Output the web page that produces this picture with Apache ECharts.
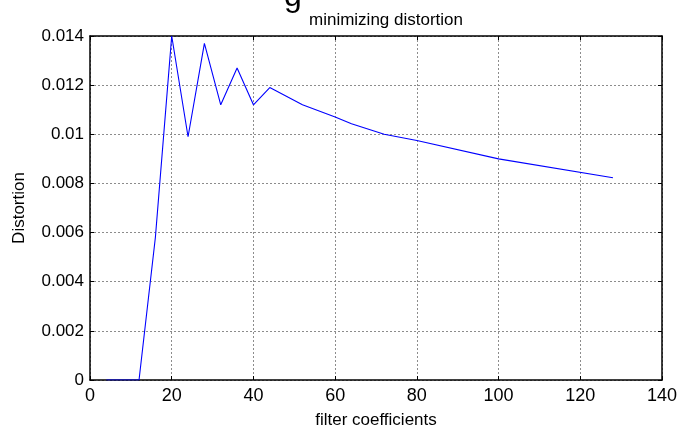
<!DOCTYPE html>
<html>
<head>
<meta charset="utf-8">
<script src="https://cdn.jsdelivr.net/npm/echarts@6/dist/echarts.min.js"></script>
<style>
  html, body { margin: 0; padding: 0; background: #fff; }
  #chart { width: 680px; height: 434px; }
</style>
</head>
<body>
<div id="chart"></div>
<script>
// filter length vs distortion
const coeffs = [4, 8, 12, 16, 20, 24, 28, 32, 36, 40, 44, 52, 60, 64, 72, 80, 100, 128]
const distortion = [0, 0, 0, 0.0058, 0.014, 0.0099, 0.0137, 0.0112, 0.0127, 0.0112, 0.0119, 0.0112, 0.0107, 0.01043, 0.0100, 0.00975, 0.0090, 0.00823]
const xTicks = [0, 20, 40, 60, 80, 100, 120, 140]
const yTicks = [0, 0.002, 0.004, 0.006, 0.008, 0.01, 0.012, 0.014]

const font = '"Liberation Sans", Arial, sans-serif'
const gridLine = { show: true, lineStyle: { color: '#8c8c8c', type: [2, 2], width: 1 } }
const boxLine = { show: true, onZero: false, lineStyle: { color: '#000', width: 1.5 } }
const tick = { show: true, inside: true, length: 4, lineStyle: { color: '#000', width: 1 } }

let chart = echarts.init(document.getElementById('chart'))

chart.setOption({
  animation: false,
  backgroundColor: '#fff',
  title: {
    text: 'minimizing distortion',
    left: 381,
    top: 7,
    textAlign: 'center',
    textStyle: { fontFamily: font, fontSize: 17, fontWeight: 'normal', color: '#000' }
  },
  graphic: [{
    type: 'text',
    left: 284,
    top: -19,
    style: { text: 'g', font: '32px ' + font, fill: '#000' }
  }],
  grid: { left: 90, right: 10, top: 36, bottom: 50 },
  xAxis: [{
    type: 'value',
    min: xTicks[0],
    max: xTicks[xTicks.length - 1],
    interval: xTicks[1] - xTicks[0],
    name: 'filter coefficients',
    nameLocation: 'middle',
    nameGap: 32,
    nameTextStyle: { fontFamily: font, fontSize: 17, color: '#000' },
    axisLine: boxLine,
    axisTick: tick,
    splitLine: gridLine,
    axisLabel: { fontFamily: font, fontSize: 18, color: '#000', margin: 7, showMaxLabel: true }
  }, {
    type: 'value',
    position: 'top',
    min: xTicks[0],
    max: xTicks[xTicks.length - 1],
    interval: xTicks[1] - xTicks[0],
    axisLine: boxLine,
    axisTick: tick,
    splitLine: { show: false },
    axisLabel: { show: false }
  }],
  yAxis: [{
    type: 'value',
    min: yTicks[0],
    max: yTicks[yTicks.length - 1],
    interval: yTicks[1] - yTicks[0],
    name: 'Distortion',
    nameLocation: 'middle',
    nameGap: 62,
    nameTextStyle: { fontFamily: font, fontSize: 17, color: '#000' },
    axisLine: boxLine,
    axisTick: tick,
    splitLine: gridLine,
    axisLabel: {
      fontFamily: font, fontSize: 17, color: '#000', margin: 6,
      formatter: v => v === 0 ? '0' : String(+v.toFixed(3))
    }
  }, {
    type: 'value',
    position: 'right',
    min: yTicks[0],
    max: yTicks[yTicks.length - 1],
    interval: yTicks[1] - yTicks[0],
    axisLine: boxLine,
    axisTick: tick,
    splitLine: { show: false },
    axisLabel: { show: false }
  }],
  series: [{
    type: 'line',
    data: coeffs.map((c, i) => [c, distortion[i]]),
    showSymbol: false,
    symbol: 'none',
    lineStyle: { color: '#0000ff', width: 1.1 },
    z: 3
  }]
})
</script>
</body>
</html>
